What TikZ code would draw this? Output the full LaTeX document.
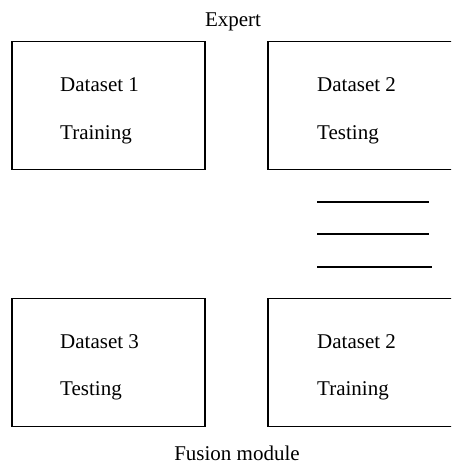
\documentclass[tikz,border=0pt]{standalone}
\usepackage{fontspec}
\setmainfont{Liberation Serif}
\usetikzlibrary{positioning}

\begin{document}
\begin{tikzpicture}[x=1pt, y=-1pt,
  databox/.style={draw, line width=1.8pt, minimum width=193pt, minimum height=128pt, inner sep=0pt},
  boxtext/.style={anchor=base west, inner sep=0pt, font=\fontsize{21}{25}\selectfont},
  title/.style={anchor=base, inner sep=0pt, font=\fontsize{21}{25}\selectfont},
  bar/.style={line width=1.6pt}]
  \clip (0,0) rectangle (451,466);

  % top row
  \node[title] (expert) at (233,26) {Expert};
  \node[databox] (set1) at (108.5,105.5) {};
  \node[databox] (set2) at (364.5,105.5) {};
  \node[boxtext] (set1name) at (60,91) {Dataset 1};
  \node[boxtext] (set1role) at (60,139) {Training};
  \node[boxtext] (set2name) at (317,91) {Dataset 2};
  \node[boxtext] (set2role) at (317,139) {Testing};

  % more experts
  \draw[bar] (317,202) -- (429,202);
  \draw[bar] (317,234) -- (429,234);
  \draw[bar] (317,267) -- (432,267);

  % bottom row
  \node[databox] (set3) at (108.5,362.5) {};
  \node[databox] (set4) at (364.5,362.5) {};
  \node[boxtext] (set3name) at (60,348) {Dataset 3};
  \node[boxtext] (set3role) at (60,395) {Testing};
  \node[boxtext] (set4name) at (317,348) {Dataset 2};
  \node[boxtext] (set4role) at (317,395) {Training};
  \node[title] (fusion) at (237,460) {Fusion module};
\end{tikzpicture}
\end{document}
